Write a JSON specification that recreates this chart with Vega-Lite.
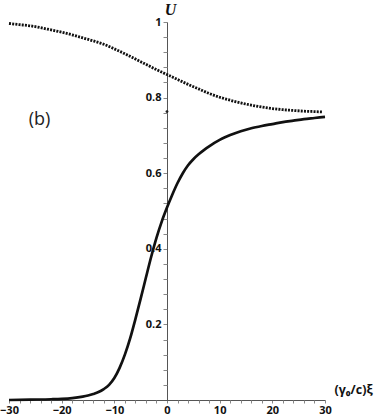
{
  "$schema": "https://vega.github.io/schema/vega-lite/v6.json",
  "width": 316,
  "height": 378,
  "autosize": "none",
  "padding": {"left": 9, "right": 49, "top": 22, "bottom": 15},
  "background": "white",
  "config": {"view": {"stroke": null}},
  "datasets": {
    "solid": [
      {"x": -30, "y": 0.0}, {"x": -26, "y": 0.001}, {"x": -22, "y": 0.002}, {"x": -20, "y": 0.003},
      {"x": -18, "y": 0.005}, {"x": -16, "y": 0.009}, {"x": -15, "y": 0.012}, {"x": -14, "y": 0.016},
      {"x": -13, "y": 0.021}, {"x": -12, "y": 0.029}, {"x": -11, "y": 0.04}, {"x": -10, "y": 0.058},
      {"x": -9, "y": 0.085}, {"x": -8, "y": 0.12}, {"x": -7, "y": 0.163}, {"x": -6, "y": 0.214},
      {"x": -5, "y": 0.268}, {"x": -4, "y": 0.324}, {"x": -3, "y": 0.379}, {"x": -2, "y": 0.429},
      {"x": -1, "y": 0.472}, {"x": 0, "y": 0.509}, {"x": 1, "y": 0.543}, {"x": 2, "y": 0.574},
      {"x": 3, "y": 0.6}, {"x": 4, "y": 0.621}, {"x": 5, "y": 0.637}, {"x": 6, "y": 0.65},
      {"x": 7, "y": 0.661}, {"x": 8, "y": 0.671}, {"x": 9, "y": 0.68}, {"x": 10, "y": 0.688},
      {"x": 11, "y": 0.695}, {"x": 12, "y": 0.701}, {"x": 14, "y": 0.711}, {"x": 16, "y": 0.719},
      {"x": 18, "y": 0.725}, {"x": 20, "y": 0.73}, {"x": 22, "y": 0.735}, {"x": 24, "y": 0.739},
      {"x": 26, "y": 0.743}, {"x": 28, "y": 0.746}, {"x": 30, "y": 0.749}
    ],
    "dotted": [
      {"x": -30, "y": 0.996}, {"x": -28, "y": 0.993}, {"x": -26, "y": 0.99}, {"x": -24, "y": 0.985},
      {"x": -22, "y": 0.979}, {"x": -20, "y": 0.973}, {"x": -18, "y": 0.966}, {"x": -16, "y": 0.958},
      {"x": -14, "y": 0.95}, {"x": -12, "y": 0.941}, {"x": -10, "y": 0.929}, {"x": -8, "y": 0.916},
      {"x": -6, "y": 0.902}, {"x": -4, "y": 0.888}, {"x": -2, "y": 0.874}, {"x": 0, "y": 0.861},
      {"x": 2, "y": 0.848}, {"x": 4, "y": 0.835}, {"x": 6, "y": 0.823}, {"x": 8, "y": 0.811},
      {"x": 10, "y": 0.801}, {"x": 12, "y": 0.793}, {"x": 14, "y": 0.786}, {"x": 16, "y": 0.78},
      {"x": 18, "y": 0.775}, {"x": 20, "y": 0.771}, {"x": 22, "y": 0.768}, {"x": 24, "y": 0.766},
      {"x": 26, "y": 0.764}, {"x": 28, "y": 0.763}, {"x": 29.5, "y": 0.762}
    ],
    "marker": [{"x": 0, "y": 0.763}],
    "label": [{"x": -24.2, "y": 0.74, "text": "(b)"}]
  },
  "resolve": {"axis": {"x": "independent", "y": "independent"}},
  "layer": [
    {
      "data": {"name": "solid"},
      "mark": {"type": "line", "color": "#111", "strokeWidth": 2.7, "interpolate": "monotone", "clip": false},
      "encoding": {
        "x": {
          "field": "x", "type": "quantitative",
          "scale": {"domain": [-30, 30], "nice": false, "zero": false},
          "axis": {
            "orient": "bottom",
            "values": [-30, -20, -10, 0, 10, 20, 30],
            "format": "d",
            "grid": false,
            "domainColor": "#555",
            "domainWidth": 1,
            "tickColor": "#888",
            "tickSize": 3,
            "labelFont": "Open Sans",
            "labelFontWeight": "bold",
            "labelFontSize": 11,
            "labelColor": "#111",
            "labelPadding": 1,
            "labelFlush": false,
            "labelOverlap": false,
            "encode": {"labels": {"update": {"dx": {"signal": "datum.value === 0 ? -9 : 0"}, "dy": {"signal": "datum.value === 0 ? -3 : 0"}}}},
            "title": "(γ₀/c)ξ",
            "titleFont": "Open Sans",
            "titleFontWeight": "bold",
            "titleFontSize": 12.5,
            "titleColor": "#111",
            "titleAlign": "left",
            "titleBaseline": "middle",
            "titleAnchor": null,
            "titleX": 325,
            "titleY": -11
          }
        },
        "y": {
          "field": "y", "type": "quantitative",
          "scale": {"domain": [0, 1], "nice": false},
          "axis": {
            "orient": "left",
            "offset": -158,
            "values": [0.2, 0.4, 0.6, 0.8, 1],
            "grid": false,
            "domainColor": "#555",
            "domainWidth": 1,
            "tickColor": "#888",
            "tickSize": 4,
            "labelFont": "Open Sans",
            "labelFontWeight": "bold",
            "labelFontSize": 11,
            "labelColor": "#111",
            "labelPadding": 2,
            "labelFlush": false,
            "labelOverlap": false,
            "labelExpr": "datum.value === 1 ? '1' : format(datum.value, '.1f')",
            "title": "U",
            "titleFont": "Liberation Serif",
            "titleFontStyle": "italic",
            "titleFontWeight": "bold",
            "titleFontSize": 16,
            "titleColor": "#111",
            "titleAngle": 0,
            "titleAlign": "center",
            "titleBaseline": "middle",
            "titleAnchor": null,
            "titleX": 3,
            "titleY": -13
          }
        }
      }
    },
    {
      "data": {"name": "dotted"},
      "mark": {"type": "line", "color": "#111", "strokeWidth": 2.8, "strokeDash": [2, 1.2], "interpolate": "monotone", "clip": false},
      "encoding": {
        "x": {
          "field": "x", "type": "quantitative",
          "axis": {
            "orient": "bottom",
            "values": [-28,-26,-24,-22,-18,-16,-14,-12,-8,-6,-4,-2,2,4,6,8,12,14,16,18,22,24,26,28],
            "labels": false,
            "domain": false,
            "grid": false,
            "tickColor": "#888",
            "tickSize": 3,
            "title": null
          }
        },
        "y": {
          "field": "y", "type": "quantitative",
          "axis": {
            "orient": "left",
            "offset": -158,
            "values": [0.04,0.08,0.12,0.16,0.24,0.28,0.32,0.36,0.44,0.48,0.52,0.56,0.64,0.68,0.72,0.76,0.84,0.88,0.92,0.96],
            "labels": false,
            "domain": false,
            "grid": false,
            "tickColor": "#888",
            "tickSize": 4,
            "title": null
          }
        }
      }
    },
    {
      "data": {"name": "marker"},
      "mark": {"type": "point", "filled": true, "color": "#222", "size": 8, "opacity": 1},
      "encoding": {
        "x": {"field": "x", "type": "quantitative", "axis": null},
        "y": {"field": "y", "type": "quantitative", "axis": null}
      }
    },
    {
      "data": {"name": "label"},
      "mark": {"type": "text", "font": "Open Sans", "fontSize": 18, "color": "#222", "align": "center", "baseline": "middle"},
      "encoding": {
        "x": {"field": "x", "type": "quantitative", "axis": null},
        "y": {"field": "y", "type": "quantitative", "axis": null},
        "text": {"field": "text"}
      }
    }
  ]
}
